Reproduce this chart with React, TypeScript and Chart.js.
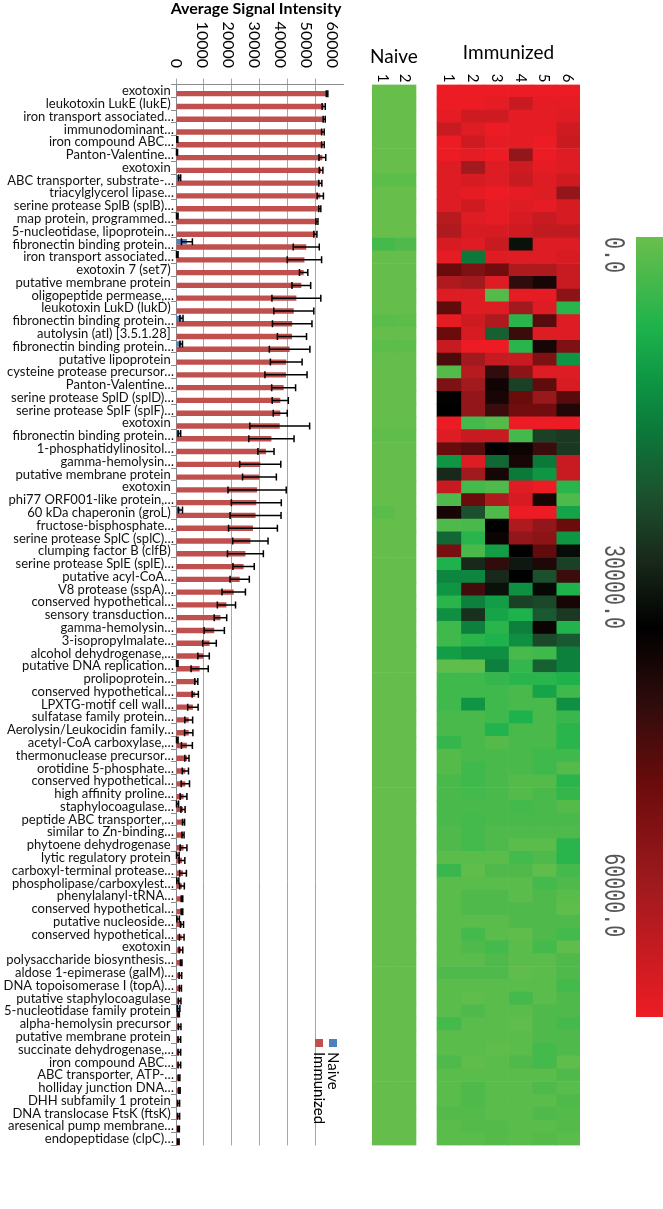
import React, { useEffect, useRef } from "react";
import { Chart, registerables } from "chart.js";
Chart.register(...registerables);

const FONT = "Lato, 'Open Sans', sans-serif";
const MONO = "'Liberation Mono', 'DejaVu Sans Mono', monospace";

const categories = [
  "exotoxin ", "leukotoxin LukE (lukE) ", "iron transport associated…", "immunodominant…", "iron compound ABC…",
  "Panton-Valentine…", "exotoxin ", "ABC transporter, substrate-…", "triacylglycerol lipase…", "serine protease SplB (splB)…",
  "map protein, programmed…", "5-nucleotidase, lipoprotein…", "fibronectin binding protein…", "iron transport associated…", "exotoxin 7 (set7) ",
  "putative membrane protein ", "oligopeptide permease,…", "leukotoxin LukD (lukD) ", "fibronectin binding protein…", "autolysin (atl) [3.5.1.28] ",
  "fibronectin binding protein…", "putative lipoprotein ", "cysteine protease precursor…", "Panton-Valentine…", "serine protease SplD (splD)…",
  "serine protease SplF (splF)…", "exotoxin ", "fibronectin binding protein…", "1-phosphatidylinositol…", "gamma-hemolysin…",
  "putative membrane protein ", "exotoxin ", "phi77 ORF001-like protein,…", "60 kDa chaperonin (groL) ", "fructose-bisphosphate…",
  "serine protease SplC (splC)…", "clumping factor B (clfB) ", "serine protease SplE (splE)…", "putative acyl-CoA…", "V8 protease (sspA)…",
  "conserved hypothetical…", "sensory transduction…", "gamma-hemolysin…", "3-isopropylmalate…", "alcohol dehydrogenase,…",
  "putative DNA replication…", "prolipoprotein…", "conserved hypothetical…", "LPXTG-motif cell wall…", "sulfatase family protein…",
  "Aerolysin/Leukocidin family…", "acetyl-CoA carboxylase,…", "thermonuclease precursor…", "orotidine 5-phosphate…", "conserved hypothetical…",
  "high affinity proline…", "staphylocoagulase…", "peptide ABC transporter,…", "similar to Zn-binding…", "phytoene dehydrogenase ",
  "lytic regulatory protein ", "carboxyl-terminal protease…", "phospholipase/carboxylest…", "phenylalanyl-tRNA…", "conserved hypothetical…",
  "putative nucleoside…", "conserved hypothetical…", "exotoxin ", "polysaccharide biosynthesis…", "aldose 1-epimerase (galM)…",
  "DNA topoisomerase I (topA)…", "putative staphylocoagulase ", "5-nucleotidase family protein ", "alpha-hemolysin precursor ", "putative membrane protein ",
  "succinate dehydrogenase,…", "iron compound ABC…", "ABC transporter, ATP-…", "holliday junction DNA…", "DHH subfamily 1 protein ",
  "DNA translocase FtsK (ftsK) ", "aresenical pump membrane…", "endopeptidase (clpC)…",
];

const naiveMean = [
  300, 300, 300, 300, 500, 400, 300, 1400, 300, 300,
  500, 300, 4200, 500, 300, 300, 300, 300, 2100, 300,
  2000, 300, 300, 300, 300, 300, 300, 1300, 300, 300,
  300, 300, 300, 1700, 300, 300, 300, 300, 300, 300,
  300, 300, 300, 300, 300, 500, 300, 300, 300, 300,
  300, 500, 300, 300, 300, 300, 600, 300, 300, 300,
  700, 300, 700, 300, 300, 800, 300, 300, 300, 300,
  300, 300, 1000, 300, 300, 300, 300, 300, 300, 300,
  300, 300, 300,
];
const naiveErr = [
  0, 0, 0, 0, 200, 200, 0, 400, 0, 0,
  300, 0, 2100, 300, 0, 0, 0, 0, 600, 0,
  500, 0, 0, 0, 0, 0, 0, 500, 0, 0,
  0, 0, 0, 800, 0, 0, 0, 0, 0, 0,
  0, 0, 0, 0, 0, 300, 0, 0, 0, 0,
  0, 300, 0, 0, 0, 0, 400, 0, 0, 0,
  500, 0, 400, 0, 0, 500, 0, 0, 0, 0,
  0, 0, 500, 0, 0, 0, 0, 0, 0, 0,
  0, 0, 0,
];
const immunizedMean = [
  58100, 56800, 57000, 56500, 56500, 56300, 55800, 55500, 55500, 55300,
  54200, 53600, 50100, 49400, 49100, 48200, 46300, 45300, 44700, 44600,
  43700, 42400, 42300, 41400, 40100, 40100, 39900, 36700, 34600, 32400,
  32100, 31200, 30900, 30600, 29600, 28600, 26700, 26000, 24500, 22200,
  19400, 17100, 14700, 12900, 10600, 9100, 7800, 7400, 6500, 4900,
  4900, 4200, 4200, 3600, 3600, 2900, 2700, 2900, 2700, 2900,
  2300, 2700, 2300, 2300, 2300, 2300, 2200, 1900, 2000, 1700,
  1700, 1400, 1000, 1400, 1300, 1300, 1300, 1200, 1300, 1000,
  1000, 1000, 900,
];
const immunizedErr = [
  300, 600, 400, 500, 500, 1300, 700, 600, 1200, 400,
  400, 600, 5000, 6600, 1600, 3600, 9400, 7700, 7600, 5600,
  7800, 6100, 8100, 4600, 3100, 2700, 11500, 8700, 3100, 7900,
  6500, 11200, 9600, 9800, 9400, 6800, 6900, 4100, 3700, 4500,
  3500, 2400, 3900, 2600, 2200, 3300, 600, 1200, 2000, 1500,
  1600, 2100, 800, 1200, 1600, 1300, 800, 400, 400, 1300,
  1100, 1300, 900, 300, 300, 600, 900, 700, 300, 500,
  400, 500, 300, 500, 500, 500, 500, 300, 300, 400,
  400, 300, 300,
];

const axisTicks = [0, 10000, 20000, 30000, 40000, 50000, 60000];

// heatmap columns: Naive 1, Naive 2, (gap), Immunized 1..6
const heatColumnLabels = ["1", "2", "", "1", "2", "3", "4", "5", "6"];
const heatColumnSource = [0, 1, -1, 2, 3, 4, 5, 6, 7];
const heatColumnWidths = [22, 22, 21, 23.83, 23.83, 23.83, 23.83, 23.83, 23.85];
// signal per cell in thousands: [naive1, naive2, imm1..imm6]
const heatmapK = [
  [0.3, 0.3, 60, 60, 60, 60, 60, 60],
  [0.3, 0.3, 60, 60, 59, 55, 59, 59],
  [0.3, 0.3, 59, 56, 56, 59, 59, 58],
  [0.3, 0.3, 55, 58, 60, 59, 59, 56],
  [0.3, 0.3, 60, 56, 59, 59, 60, 55],
  [0.3, 0.3, 60, 59, 60, 48, 60, 58],
  [0.3, 0.3, 58, 50, 58, 56, 59, 58],
  [1.2, 1.2, 58, 57, 58, 55, 58, 56],
  [0.3, 0.3, 58, 59, 60, 59, 58, 48],
  [0.3, 0.3, 58, 56, 59, 58, 59, 57],
  [0.3, 0.3, 53, 58, 59, 57, 55, 57],
  [0.3, 0.3, 52, 57, 57, 56, 54, 54],
  [3.5, 2.5, 57, 58, 55, 28, 58, 58],
  [0.5, 0.5, 59, 15, 58, 58, 58, 57],
  [0.5, 0.5, 42, 45, 43, 52, 52, 55],
  [0.5, 0.5, 52, 50, 58, 36, 33, 55],
  [0.5, 0.5, 58, 58, 2, 59, 59, 47],
  [0.5, 0.5, 41, 58, 58, 50, 58, 6],
  [1.5, 1.2, 59, 56, 52, 6, 40, 58],
  [0.5, 0.5, 42, 57, 18, 37, 58, 58],
  [1.2, 1.2, 55, 60, 60, 6, 33, 45],
  [0.5, 0.5, 39, 50, 55, 55, 45, 11],
  [0.5, 0.5, 2, 53, 36, 47, 58, 58],
  [0.5, 0.5, 45, 50, 32, 22, 41, 57],
  [0.5, 0.5, 30.5, 48, 33, 42, 49, 40],
  [0.5, 0.5, 30, 48, 37, 43, 43, 34],
  [0.5, 0.5, 60, 3.5, 2, 60, 60, 60],
  [1.0, 1.0, 58, 55, 55, 3.5, 22, 23],
  [0.5, 0.5, 42, 40, 30, 31.5, 37, 23],
  [0.5, 0.5, 11, 58, 17, 33, 15, 55],
  [0.5, 0.5, 25, 50, 33, 15, 11, 55],
  [0.5, 0.5, 55, 3.5, 2.5, 58, 60, 6],
  [0.5, 0.5, 2.5, 42, 52, 57, 33, 2.5],
  [1.5, 0.5, 33, 20, 2.5, 60, 60, 9],
  [0.5, 0.5, 2.5, 3, 30, 52, 48, 42],
  [0.5, 0.5, 17, 6, 31.5, 48, 47, 11],
  [0.5, 0.5, 44, 3, 10, 30, 41, 28.5],
  [0.5, 0.5, 7, 25, 36, 27, 34, 22],
  [0.5, 0.5, 13, 13, 25, 30, 20, 37],
  [0.5, 0.5, 11, 38, 28, 12, 29, 7],
  [0.5, 0.5, 6, 14, 10, 22, 21, 33],
  [0.5, 0.5, 12, 24, 9, 7, 19, 23],
  [0.5, 0.5, 4, 14, 6, 14, 31.5, 6.5],
  [0.5, 0.5, 4, 6, 7, 12, 21, 19],
  [0.5, 0.5, 10, 12, 12, 3, 4, 14],
  [0.5, 0.5, 1, 1, 14, 5, 18, 14],
  [0.5, 0.5, 4, 4, 5, 6, 6, 7],
  [0.5, 0.5, 4, 4, 4, 3, 9, 4],
  [0.5, 0.5, 4, 11, 4, 3, 3, 12],
  [0.5, 0.5, 3, 3, 4, 7, 3, 4.5],
  [0.5, 0.5, 3, 3, 6.5, 3, 3, 6],
  [0.5, 0.5, 5, 3, 2, 3, 3, 6],
  [0.5, 0.5, 2, 3, 3, 3, 4, 4],
  [0.5, 0.5, 2, 4, 3, 3, 4, 2],
  [0.5, 0.5, 3, 4, 3, 2, 2, 6],
  [0.5, 0.5, 3, 3.5, 3, 2, 3, 5],
  [0.5, 0.5, 3, 3, 3, 3.5, 3, 2],
  [0.5, 0.5, 3, 3.5, 3, 3, 3, 3],
  [0.5, 0.5, 2.5, 3.5, 2.5, 2.5, 2.5, 2.5],
  [0.5, 0.5, 2.5, 3.5, 2.5, 1.5, 1.5, 6],
  [0.5, 0.5, 1.5, 1.5, 1.5, 3.5, 2.5, 6],
  [0.5, 0.5, 4.5, 1, 2.5, 2.5, 1, 3.5],
  [0.5, 0.5, 1.5, 1.5, 1.5, 1.5, 3.5, 2.5],
  [0.5, 0.5, 1.5, 2.5, 2.5, 1.5, 2.5, 1.5],
  [0.5, 0.5, 1.5, 2.5, 2.5, 2.5, 2.5, 1],
  [0.5, 0.5, 1.5, 1.5, 1.5, 2.5, 2.5, 2.5],
  [0.5, 0.5, 1.5, 3.5, 1.5, 1, 2.5, 3.5],
  [0.5, 0.5, 1.5, 2.5, 3.5, 1.5, 3.5, 1],
  [0.5, 0.5, 1.5, 1.5, 2.5, 1.5, 1.5, 2.5],
  [0.5, 0.5, 2.5, 2.5, 2.5, 1, 1.5, 2.5],
  [0.5, 0.5, 1.5, 1.5, 1.5, 1.5, 1.5, 3.5],
  [0.5, 0.5, 1.5, 1, 1.5, 3.5, 1.5, 2.5],
  [0.5, 0.5, 1.5, 2.5, 1.5, 1.5, 2.5, 2.5],
  [0.5, 0.5, 3.5, 1.5, 1.5, 1, 2.5, 3.5],
  [0.5, 0.5, 1.5, 1.5, 1.5, 1.5, 2.5, 2.5],
  [0.5, 0.5, 1.5, 1.5, 1, 1.5, 3.5, 2.5],
  [0.5, 0.5, 2.5, 1, 1.5, 2.5, 3.5, 1],
  [0.5, 0.5, 1.5, 1.5, 1.5, 1.5, 1.5, 2.5],
  [0.5, 0.5, 1.5, 2.5, 1.5, 1.5, 2.5, 1.5],
  [0.5, 0.5, 1.5, 2.5, 1.5, 1.5, 1.5, 2.5],
  [0.5, 0.5, 2, 2, 1.5, 1.5, 2.5, 2],
  [0.5, 0.5, 1.5, 2, 2, 1.5, 1.5, 2],
  [0.5, 0.5, 1.5, 1.5, 2, 1.5, 2, 1.5],
];

const colorStopValues = [0, 7000, 11000, 15000, 20000, 25000, 30000, 36000, 42000, 50000, 60000];
const colorStopColors = ["#6abf4b", "#1eb24c", "#0e9644", "#0c783a", "#1c502d", "#18281a", "#000000", "#300c0c", "#6a0b0c", "#a01a1e", "#ed1c24"];
const colorbarLabels = ["0.0", "30000.0", "60000.0"];
const colorbarLabelAt = [0, 0.395, 0.79];

function hexRgb(h: string) {
  const n = parseInt(h.slice(1), 16);
  return [(n >> 16) & 255, (n >> 8) & 255, n & 255];
}
function valueToColor(v: number): string {
  if (v <= colorStopValues[0]) return colorStopColors[0];
  for (let i = 1; i < colorStopValues.length; i++) {
    if (v <= colorStopValues[i]) {
      const t = (v - colorStopValues[i - 1]) / (colorStopValues[i] - colorStopValues[i - 1]);
      const a = hexRgb(colorStopColors[i - 1]);
      const b = hexRgb(colorStopColors[i]);
      const c = a.map((x, k) => Math.round(x + (b[k] - x) * t));
      return `rgb(${c[0]},${c[1]},${c[2]})`;
    }
  }
  return colorStopColors[colorStopColors.length - 1];
}

const PAGE_H = 1209;
const ROW_TOP = 84.6;
const ROW_BOTTOM = 1145.4;
const HEAT_CANVAS_LEFT = 360;
const HEAT_CANVAS_W = 303;

const errorBarPlugin = {
  id: "errorBars",
  afterDatasetsDraw(chart: any) {
    const ctx = chart.ctx;
    const xs = chart.scales.x;
    ctx.save();
    ctx.strokeStyle = "#000";
    ctx.lineWidth = 1.5;
    chart.data.datasets.forEach((ds: any, di: number) => {
      const meta = chart.getDatasetMeta(di);
      meta.data.forEach((bar: any, i: number) => {
        const e = ds.errors[i];
        if (!e) return;
        const v = ds.data[i];
        const x1 = xs.getPixelForValue(Math.max(0, v - e));
        const x2 = xs.getPixelForValue(v + e);
        const y = bar.y;
        ctx.beginPath();
        ctx.moveTo(x1, y);
        ctx.lineTo(x2, y);
        ctx.moveTo(x1, y - 3.5);
        ctx.lineTo(x1, y + 3.5);
        ctx.moveTo(x2, y - 3.5);
        ctx.lineTo(x2, y + 3.5);
        ctx.stroke();
      });
    });
    ctx.restore();
  },
};

const barDecorPlugin = {
  id: "barDecor",
  afterDraw(chart: any) {
    const ctx = chart.ctx;
    const xs = chart.scales.x;
    ctx.save();
    ctx.fillStyle = "#000";
    ctx.font = `bold 16px ${FONT}`;
    ctx.textAlign = "center";
    ctx.textBaseline = "middle";
    ctx.fillText("Average Signal Intensity", 256, 9);
    ctx.font = `16px ${FONT}`;
    axisTicks.forEach((v) => {
      ctx.save();
      ctx.translate(xs.getPixelForValue(v), 68);
      ctx.rotate(Math.PI / 2);
      ctx.textAlign = "right";
      ctx.textBaseline = "middle";
      ctx.fillText(String(v), 0, 0);
      ctx.restore();
    });
    // legend (rotated)
    const items = [
      { label: chart.data.datasets[1].label, color: chart.data.datasets[1].backgroundColor, x: 319 },
      { label: chart.data.datasets[0].label, color: chart.data.datasets[0].backgroundColor, x: 333 },
    ];
    items.forEach((it) => {
      ctx.fillStyle = it.color;
      ctx.fillRect(it.x - 4, 1039, 8, 8);
      ctx.save();
      ctx.translate(it.x, 1052);
      ctx.rotate(Math.PI / 2);
      ctx.fillStyle = "#000";
      ctx.textAlign = "left";
      ctx.textBaseline = "middle";
      ctx.font = `15px ${FONT}`;
      ctx.fillText(it.label, 0, 0);
      ctx.restore();
    });
    ctx.restore();
  },
};

const heatDecorPlugin = {
  id: "heatDecor",
  afterDraw(chart: any) {
    const ctx = chart.ctx;
    const xs = chart.scales.x;
    const colStart = (c: number) => heatColumnWidths.slice(0, c).reduce((a, b) => a + b, 0);
    const colMid = (c: number) => xs.getPixelForValue(colStart(c) + heatColumnWidths[c] / 2);
    ctx.save();
    ctx.fillStyle = "#000";
    ctx.textAlign = "center";
    ctx.textBaseline = "middle";
    ctx.font = `19px ${FONT}`;
    ctx.fillText("Naive", xs.getPixelForValue(colStart(2) / 2), 57);
    ctx.fillText("Immunized", xs.getPixelForValue((colStart(3) + colStart(9)) / 2), 53);
    ctx.font = `15px ${FONT}`;
    heatColumnLabels.forEach((lab, c) => {
      if (!lab) return;
      ctx.save();
      ctx.translate(colMid(c), 78);
      ctx.rotate(Math.PI / 2);
      ctx.fillText(lab, 0, 0);
      ctx.restore();
    });
    // colour bar
    const cbLeft = 636 - HEAT_CANVAS_LEFT, cbW = 27, cbTop = 237, cbBottom = 1017;
    const g = ctx.createLinearGradient(0, cbTop, 0, cbBottom);
    colorStopValues.forEach((v, i) => g.addColorStop(v / 60000, colorStopColors[i]));
    ctx.fillStyle = g;
    ctx.fillRect(cbLeft, cbTop, cbW, cbBottom - cbTop);
    ctx.fillStyle = "#555";
    ctx.font = `20px ${MONO}`;
    colorbarLabels.forEach((lab, i) => {
      ctx.save();
      ctx.translate(613 - HEAT_CANVAS_LEFT, cbTop + colorbarLabelAt[i] * (cbBottom - cbTop));
      ctx.rotate(Math.PI / 2);
      ctx.scale(1, 1.5);
      ctx.textAlign = "left";
      ctx.textBaseline = "middle";
      ctx.fillText(lab, 0, 0);
      ctx.restore();
    });
    ctx.restore();
  },
};

export default function App() {
  const barRef = useRef<HTMLCanvasElement>(null);
  const heatRef = useRef<HTMLCanvasElement>(null);

  useEffect(() => {
    const barChart = new Chart(barRef.current as HTMLCanvasElement, {
      type: "bar",
      data: {
        labels: categories,
        datasets: [
          { label: "Naive", data: naiveMean, errors: naiveErr, backgroundColor: "#4F81BD", categoryPercentage: 0.84, barPercentage: 1 } as any,
          { label: "Immunized", data: immunizedMean, errors: immunizedErr, backgroundColor: "#C0504D", categoryPercentage: 0.84, barPercentage: 1 } as any,
        ],
      },
      options: {
        indexAxis: "y",
        responsive: false,
        animation: false,
        events: [],
        layout: { padding: { left: 0, right: 17, top: 0, bottom: PAGE_H - ROW_BOTTOM } },
        plugins: { legend: { display: false }, tooltip: { enabled: false }, title: { display: false } },
        scales: {
          x: {
            position: "top",
            min: 0,
            max: 64231,
            ticks: { display: false, stepSize: 10000 },
            afterBuildTicks: (s: any) => { s.ticks = s.ticks.filter((t: any) => t.value <= 60000); },
            afterFit: (s: any) => { s.height = ROW_TOP; },
            grid: { color: "#a6a6a6", tickLength: 6, lineWidth: 1 },
            border: { color: "#8c8c8c" },
          },
          y: {
            ticks: { font: { family: FONT, size: 13 }, color: "#111", padding: -3, autoSkip: false },
            afterFit: (s: any) => { s.width = 176; },
            grid: { drawOnChartArea: false, offset: true, tickLength: 5, color: "#8c8c8c" },
            border: { color: "#8c8c8c" },
          },
        },
      } as any,
      plugins: [errorBarPlugin, barDecorPlugin],
    });

    const heatChart = new Chart(heatRef.current as HTMLCanvasElement, {
      type: "bar",
      data: {
        labels: categories,
        datasets: heatColumnSource.map((src, c) => ({
          data: categories.map(() => heatColumnWidths[c]),
          backgroundColor: src < 0 ? "rgba(0,0,0,0)" : heatmapK.map((row) => valueToColor(row[src] * 1000)),
          borderWidth: 0,
          barPercentage: 1,
          categoryPercentage: 1,
        })),
      },
      options: {
        indexAxis: "y",
        responsive: false,
        animation: false,
        events: [],
        layout: { padding: { left: 372 - HEAT_CANVAS_LEFT, right: HEAT_CANVAS_W - (580 - HEAT_CANVAS_LEFT), top: ROW_TOP, bottom: PAGE_H - ROW_BOTTOM } },
        plugins: { legend: { display: false }, tooltip: { enabled: false } },
        scales: {
          x: { display: false, stacked: true, min: 0, max: 208 },
          y: { display: false, stacked: true },
        },
      } as any,
      plugins: [heatDecorPlugin],
    });

    return () => {
      barChart.destroy();
      heatChart.destroy();
    };
  }, []);

  return (
    <div style={{ position: "absolute", left: 0, top: 0, width: 663, height: PAGE_H, background: "#fff" }}>
      <canvas ref={barRef} width={360} height={PAGE_H} style={{ position: "absolute", left: 0, top: 0, width: 360, height: PAGE_H }} />
      <canvas ref={heatRef} width={HEAT_CANVAS_W} height={PAGE_H} style={{ position: "absolute", left: HEAT_CANVAS_LEFT, top: 0, width: HEAT_CANVAS_W, height: PAGE_H }} />
    </div>
  );
}
